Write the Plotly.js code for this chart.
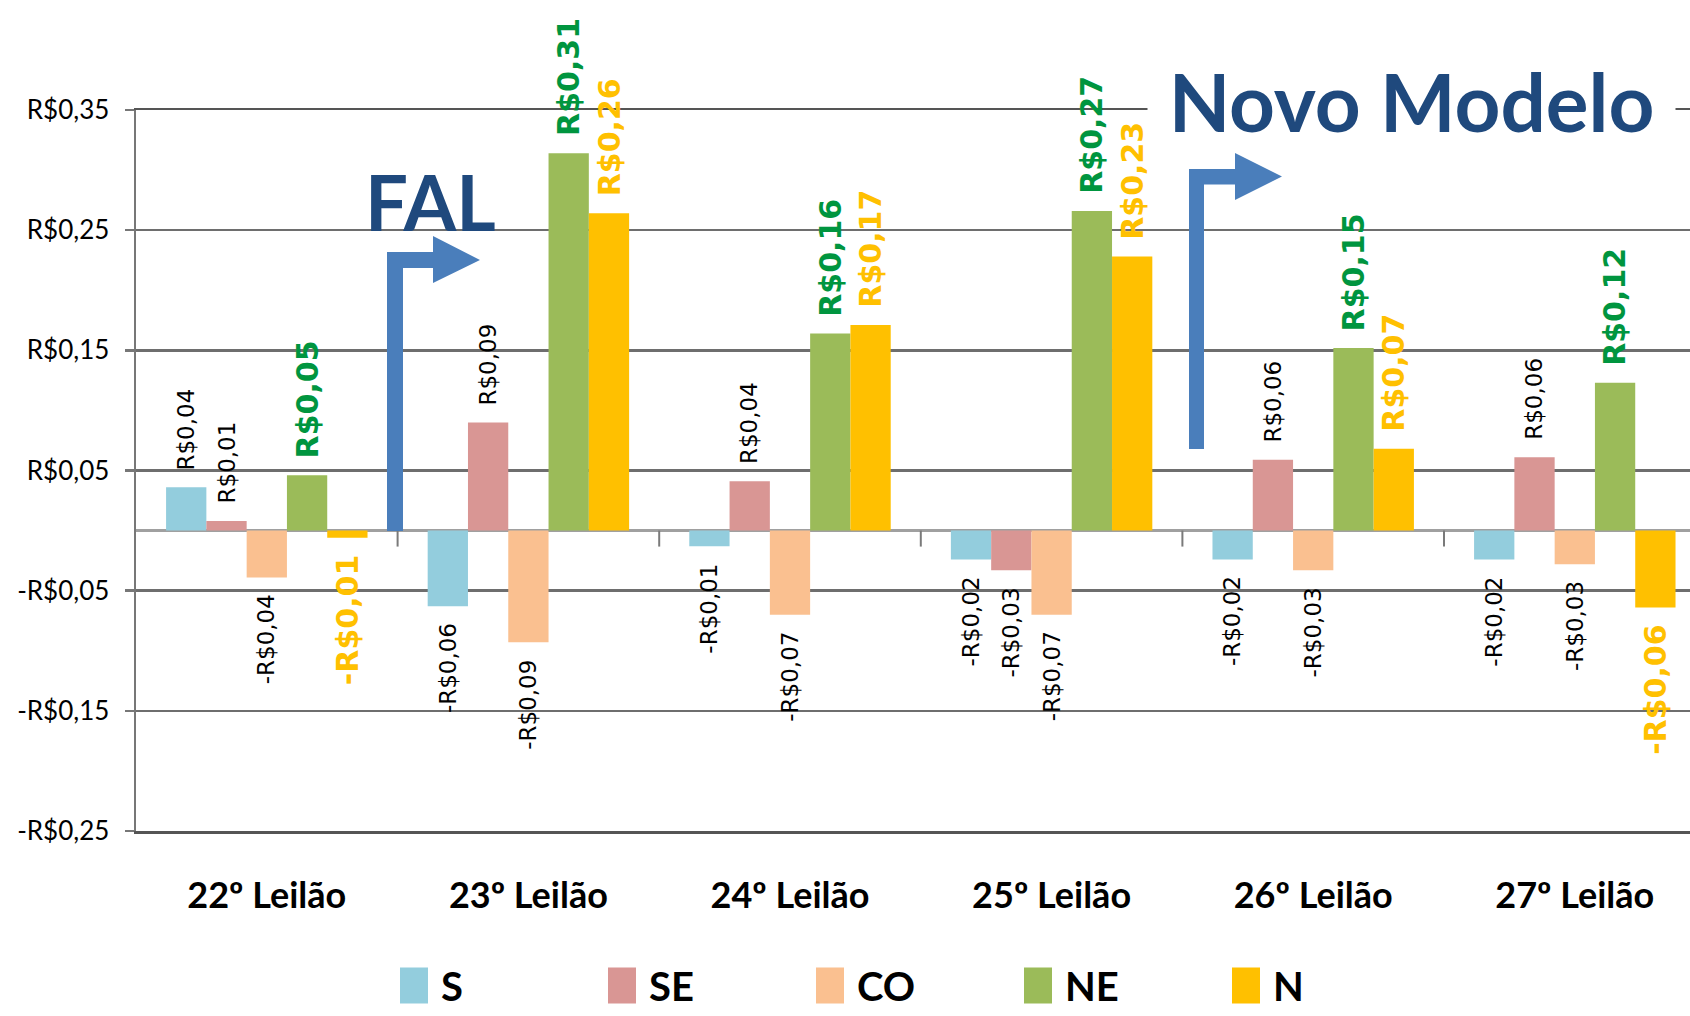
<!DOCTYPE html>
<html>
<head>
<meta charset="utf-8">
<script src="https://cdn.plot.ly/plotly-3.0.1.min.js"></script>
<style>html,body{margin:0;padding:0;background:#fff;}#chart{width:1690px;height:1016px;}</style>
</head>
<body>
<div id="chart"></div>
<script>
// ---- data ----
const categories = ['22º Leilão', '23º Leilão', '24º Leilão', '25º Leilão', '26º Leilão', '27º Leilão'];
const seriesNames = ['S', 'SE', 'CO', 'NE', 'N'];
const valuesS  = [0.036, -0.063, -0.013, -0.024, -0.024, -0.024];
const valuesSE = [0.008,  0.090,  0.041, -0.033,  0.059,  0.061];
const valuesCO = [-0.039, -0.093, -0.070, -0.070, -0.033, -0.028];
const valuesNE = [0.046,  0.314,  0.164,  0.266,  0.152,  0.123];
const valuesN  = [-0.006, 0.264,  0.171,  0.228,  0.068, -0.064];
const yTickVals = [-0.25, -0.15, -0.05, 0.05, 0.15, 0.25, 0.35];
const yTickText = ['-R$0,25', '-R$0,15', '-R$0,05', 'R$0,05', 'R$0,15', 'R$0,25', 'R$0,35'];
const noteFAL = 'FAL';
const noteNovo = 'Novo Modelo';

// ---- style ----
const W = 1690, H = 1016;
const M = {l: 136, r: 0, t: 110, b: 185};
const barColors = ['#93CDDD', '#D99694', '#FAC090', '#9BBB59', '#FFC000'];
const labelStyles = [
  {family: 'DejaVu Sans', size: 23, color: '#000000', weight: 400},
  {family: 'DejaVu Sans', size: 23, color: '#000000', weight: 400},
  {family: 'DejaVu Sans', size: 23, color: '#000000', weight: 400},
  {family: 'DejaVu Sans', size: 30, color: '#00953F', weight: 700},
  {family: 'DejaVu Sans', size: 30, color: '#FFC000', weight: 700}
];
const uiFont = 'Lato, "Open Sans", sans-serif';
const bargap = 0.23;
const allSeries = [valuesS, valuesSE, valuesCO, valuesNE, valuesN];

const fmt = v => (v < 0 ? '-' : '') + 'R$' + Math.abs(v).toFixed(2).replace('.', ',');

const traces = allSeries.map((vals, k) => ({
  type: 'bar',
  name: seriesNames[k],
  x: categories,
  y: vals,
  marker: {color: barColors[k], line: {width: 0}},
  hoverinfo: 'skip'
}));

// data labels
const nS = seriesNames.length;
const bw = (1 - bargap) / nS;
const annotations = [];
allSeries.forEach((vals, k) => {
  vals.forEach((v, i) => {
    annotations.push({
      xref: 'x', yref: 'y',
      x: i + (k - (nS - 1) / 2) * bw,
      y: v,
      text: fmt(v),
      textangle: -90,
      showarrow: false,
      xanchor: 'center',
      yanchor: v >= 0 ? 'bottom' : 'top',
      yshift: v >= 0 ? 15 : -15,
      font: labelStyles[k]
    });
  });
});

// pixel -> paper helpers for decorations
const PW = W - M.l - M.r, PH = H - M.t - M.b;
const px = x => (x - M.l) / PW;
const py = y => (H - M.b - y) / PH;
const pathFrom = pts => 'M' + pts.map(p => px(p[0]).toFixed(5) + ',' + py(p[1]).toFixed(5)).join('L') + 'Z';

annotations.push({
  xref: 'paper', yref: 'paper', x: px(430), y: py(201), text: noteFAL, showarrow: false,
  xanchor: 'center', yanchor: 'middle',
  font: {family: uiFont, size: 76, color: '#1F497D', weight: 700}
});
annotations.push({
  xref: 'paper', yref: 'paper', x: px(1411), y: py(101), text: noteNovo, showarrow: false,
  xanchor: 'center', yanchor: 'middle', bgcolor: '#ffffff', width: 527, borderpad: 0,
  font: {family: uiFont, size: 80, color: '#1F497D', weight: 700}
});

const shapes = [];
// category boundary ticks on the zero line
for (let i = 0; i < categories.length - 1; i++) {
  shapes.push({type: 'line', xref: 'x', yref: 'y', ysizemode: 'pixel', yanchor: 0,
    x0: i + 0.5, x1: i + 0.5, y0: 0, y1: -16, line: {color: '#7a7a7a', width: 2}});
}
// arrows
shapes.push({type: 'path', xref: 'paper', yref: 'paper', fillcolor: '#4A7EBB', line: {width: 0},
  path: pathFrom([[387,531],[387,252],[433,252],[433,236],[480,260],[433,283],[433,268],[403,268],[403,531]])});
shapes.push({type: 'path', xref: 'paper', yref: 'paper', fillcolor: '#4A7EBB', line: {width: 0},
  path: pathFrom([[1189,449],[1189,169],[1235,169],[1235,153],[1282,176.5],[1235,200],[1235,184.5],[1204,184.5],[1204,449]])});

const layout = {
  width: W, height: H,
  margin: M,
  paper_bgcolor: '#ffffff', plot_bgcolor: '#ffffff',
  barmode: 'group', bargap: bargap, bargroupgap: 0,
  showlegend: true,
  legend: {
    orientation: 'h', xref: 'container', yref: 'container',
    x: 387 / W, y: 1 - 953 / H, xanchor: 'left', yanchor: 'top',
    itemwidth: 44, entrywidth: 149,
    font: {family: uiFont, size: 40, color: '#000000', weight: 700},
    bgcolor: 'rgba(0,0,0,0)'
  },
  xaxis: {
    type: 'category',
    range: [-0.5, -0.5 + (W - M.l - M.r) / 261.6],
    showgrid: false, zeroline: false,
    showline: true, mirror: true, linecolor: '#555555', linewidth: 2.5,
    ticks: '',
    ticklabelstandoff: 31,
    tickfont: {family: uiFont, size: 36, color: '#000000', weight: 700}
  },
  yaxis: {
    range: [-0.25, 0.35],
    tickvals: yTickVals, ticktext: yTickText,
    showgrid: true, gridcolor: '#6e6e6e', gridwidth: 2.5,
    zeroline: true, zerolinecolor: '#a0a0a0', zerolinewidth: 3,
    showline: true, linecolor: '#777777', linewidth: 2.5,
    ticks: 'outside', ticklen: 9, tickwidth: 2.5, tickcolor: '#777777',
    ticklabelstandoff: 10,
    tickfont: {family: uiFont, size: 26, color: '#000000'}
  },
  annotations: annotations,
  shapes: shapes,
  hovermode: false
};

Plotly.newPlot('chart', traces, layout, {displayModeBar: false, staticPlot: true}).then(() => {
  document.querySelectorAll('.legend .legendpoints path').forEach(p => {
    p.setAttribute('d', 'M14,18H-14V-18H14Z');
  });
});
</script>
</body>
</html>
